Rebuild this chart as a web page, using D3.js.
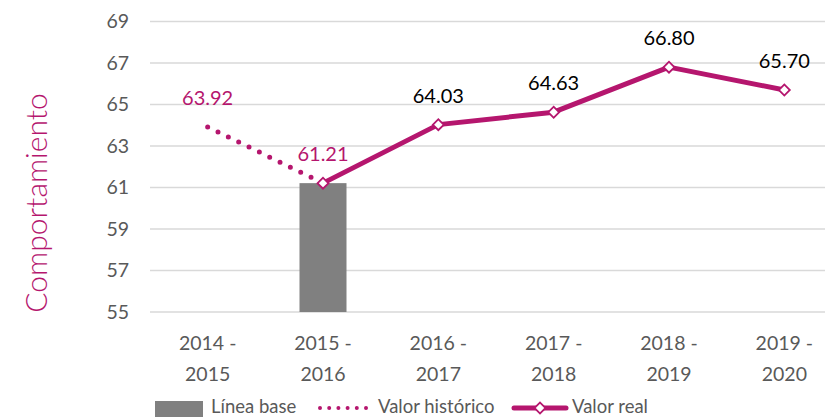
<!DOCTYPE html>
<html><head><meta charset="utf-8">
<script src="https://cdn.jsdelivr.net/npm/d3@7"></script>
<style>body{margin:0;background:#fff}svg{display:block}text{font-family:Lato,"Open Sans",sans-serif}</style>
</head><body><svg id="c" width="825" height="417"></svg>
<script>
const categories = [["2014 -","2015"],["2015 -","2016"],["2016 -","2017"],["2017 -","2018"],["2018 -","2019"],["2019 -","2020"]];
const baseValues = [null, 61.21, null, null, null, null];
const historicValues = [63.92, 61.21, null, null, null, null];
const realValues = [null, 61.21, 64.03, 64.63, 66.80, 65.70];
const labelValues = [63.92, 61.21, 64.03, 64.63, 66.80, 65.70];
const labelIsHistoric = [true, true, false, false, false, false];
const yTicks = [55,57,59,61,63,65,67,69];
const legendNames = ["Línea base","Valor histórico","Valor real"];

const MAG = "#B5166E";
const svg = d3.select("#c");
const keys = categories.map((c,i)=>i);
const x = d3.scaleBand().domain(keys).range([150, 842]);
const y = d3.scaleLinear().domain([55,69]).range([312, 21.5]);
const cx = i => x(i) + x.bandwidth()/2;

// gridlines
svg.append("g").selectAll("line").data(yTicks).join("line")
  .attr("x1",150).attr("x2",825).attr("y1",d=>y(d)).attr("y2",d=>y(d))
  .attr("stroke","#d9d9d9").attr("stroke-width",1.5);

// y tick labels
svg.append("g").selectAll("text").data(yTicks).join("text")
  .attr("x",129).attr("y",d=>y(d)).attr("dy","0.35em").attr("text-anchor","end")
  .attr("font-size",19.5).attr("fill","#595959").text(d=>d);

// x labels
const xl = svg.append("g").selectAll("text").data(keys).join("text")
  .attr("text-anchor","middle").attr("font-size",19.5).attr("fill","#595959");
xl.append("tspan").attr("x",i=>cx(i)).attr("y",350).text(i=>categories[i][0]);
xl.append("tspan").attr("x",i=>cx(i)).attr("y",381).text(i=>categories[i][1]);

// axis title
svg.append("text").attr("transform","translate(47,203) rotate(-90)")
  .attr("text-anchor","middle").attr("font-size",30).attr("fill",MAG).attr("font-weight",300)
  .text("Comportamiento");

// bar
const bw = 47;
svg.append("g").selectAll("rect").data(keys.filter(i=>baseValues[i]!=null)).join("rect")
  .attr("x",i=>cx(i)-bw/2).attr("width",bw).attr("y",i=>y(baseValues[i]))
  .attr("height",i=>y(55)-y(baseValues[i])).attr("fill","#808080");

// historic dotted
const line = d3.line().defined(d=>d.v!=null).x(d=>cx(d.i)).y(d=>y(d.v));
svg.append("path").datum(historicValues.map((v,i)=>({v,i})))
  .attr("d",line).attr("fill","none").attr("stroke",MAG).attr("stroke-width",5)
  .attr("stroke-linecap","round").attr("stroke-dasharray","0 11.5");

// real line
svg.append("path").datum(realValues.map((v,i)=>({v,i})))
  .attr("d",line).attr("fill","none").attr("stroke",MAG).attr("stroke-width",5)
  .attr("stroke-linejoin","round");

// markers
svg.append("g").selectAll("path").data(keys.filter(i=>realValues[i]!=null)).join("path")
  .attr("d",d3.symbol().type(d3.symbolSquare).size(60))
  .attr("transform",i=>`translate(${cx(i)},${y(realValues[i])}) rotate(45)`)
  .attr("fill","#fff").attr("stroke",MAG).attr("stroke-width",1.8);

// data labels
svg.append("g").selectAll("text").data(keys).join("text")
  .attr("x",i=>cx(i)).attr("y",i=>y(labelValues[i])-22).attr("text-anchor","middle")
  .attr("font-size",20).attr("fill",i=>labelIsHistoric[i]?MAG:"#000")
  .text(i=>labelValues[i].toFixed(2));

// legend
const lg = svg.append("g");
lg.append("rect").attr("x",155).attr("y",401).attr("width",48).attr("height",16).attr("fill","#808080");
lg.append("text").attr("x",211).attr("y",413).attr("font-size",18.5).attr("fill","#595959").text(legendNames[0]);
lg.append("line").attr("x1",320).attr("x2",366).attr("y1",408).attr("y2",408)
  .attr("stroke",MAG).attr("stroke-width",4).attr("stroke-linecap","round").attr("stroke-dasharray","0 9.2");
lg.append("text").attr("x",378).attr("y",413).attr("font-size",18.5).attr("fill","#595959").text(legendNames[1]);
lg.append("line").attr("x1",514).attr("x2",566).attr("y1",408).attr("y2",408)
  .attr("stroke",MAG).attr("stroke-width",5).attr("stroke-linecap","round");
lg.append("path").attr("d",d3.symbol().type(d3.symbolSquare).size(60)).attr("transform","translate(540,408) rotate(45)")
  .attr("fill","#fff").attr("stroke",MAG).attr("stroke-width",1.8);
lg.append("text").attr("x",572).attr("y",413).attr("font-size",18.5).attr("fill","#595959").text(legendNames[2]);
</script></body></html>
